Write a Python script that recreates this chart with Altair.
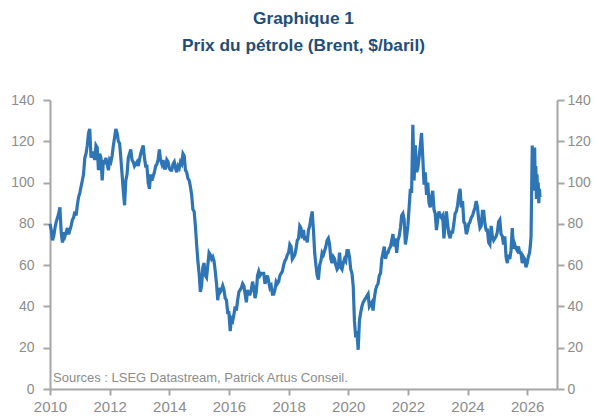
import altair as alt
import pandas as pd

title_lines = ["Graphique 1", "Prix du pétrole (Brent, $/baril)"]
source_note = "Sources : LSEG Datastream, Patrick Artus Conseil."
year_ticks = [2010, 2012, 2014, 2016, 2018, 2020, 2022, 2024, 2026]
price_ticks = [0, 20, 40, 60, 80, 100, 120, 140]

# Brent, $/barrel, two readings per month (1st and 15th)
brent_2010 = [80, 77, 72, 74, 78, 81, 83, 85, 88, 76, 71, 76, 74, 76, 78, 75, 77, 79, 82, 83, 86, 84, 89, 93]
brent_2011 = [95, 98, 101, 104, 112, 114, 118, 124, 126, 112, 115, 113, 111, 118, 117, 106, 114, 112, 101, 111, 109, 112, 109, 106]
brent_2012 = [111, 110, 113, 118, 122, 126, 124, 120, 119, 112, 104, 96, 89, 101, 104, 112, 114, 116, 111, 110, 108, 109, 110, 108]
brent_2013 = [111, 114, 116, 118, 112, 108, 108, 100, 97, 104, 101, 103, 105, 108, 109, 111, 116, 111, 109, 111, 107, 107, 111, 110]
brent_2014 = [107, 106, 106, 109, 110, 107, 105, 108, 107, 110, 109, 114, 113, 106, 105, 102, 101, 98, 94, 87, 86, 79, 70, 62]
brent_2015 = [56, 47, 50, 59, 61, 55, 54, 60, 66, 65, 63, 64, 62, 57, 51, 43, 49, 47, 48, 50, 48, 44, 43, 37]
brent_2016 = [37, 28, 34, 33, 36, 40, 38, 43, 47, 48, 49, 51, 50, 46, 42, 48, 46, 46, 48, 52, 49, 44, 47, 55]
brent_2017 = [57, 55, 56, 56, 56, 51, 53, 55, 52, 49, 50, 46, 46, 48, 52, 51, 52, 55, 56, 57, 60, 62, 63, 65]
brent_2018 = [66, 70, 69, 63, 64, 65, 68, 72, 73, 79, 78, 73, 77, 72, 74, 71, 77, 79, 83, 86, 77, 66, 60, 55]
brent_2019 = [53, 60, 62, 66, 65, 67, 69, 72, 73, 70, 63, 61, 64, 63, 60, 58, 59, 66, 59, 58, 61, 63, 62, 67]
brent_2020 = [67, 64, 58, 56, 50, 33, 25, 28, 19, 33, 37, 40, 42, 43, 44, 45, 46, 40, 41, 42, 38, 44, 48, 50]
brent_2021 = [51, 55, 56, 63, 66, 69, 63, 66, 66, 68, 69, 72, 75, 69, 73, 66, 72, 74, 78, 84, 85, 82, 70, 74]
brent_2022 = [79, 88, 97, 95, 128, 101, 118, 105, 107, 112, 118, 124, 112, 99, 105, 94, 100, 90, 88, 93, 96, 87, 85, 77]
brent_2023 = [82, 86, 84, 83, 84, 73, 80, 86, 80, 75, 73, 76, 76, 80, 85, 86, 89, 94, 97, 88, 91, 81, 80, 75]
brent_2024 = [77, 80, 81, 83, 84, 86, 88, 91, 88, 82, 78, 79, 86, 86, 80, 77, 77, 71, 70, 79, 74, 72, 73, 74]
brent_2025 = [76, 81, 82, 75, 74, 70, 74, 64, 61, 65, 63, 67, 78, 68, 70, 68, 67, 69, 66, 66, 61, 64, 63, 59]
brent_2026_t = [2026.00, 2026.04, 2026.08, 2026.11, 2026.13, 2026.15, 2026.17, 2026.19, 2026.21, 2026.23,
                2026.25, 2026.27, 2026.29, 2026.31, 2026.33, 2026.35, 2026.37, 2026.39, 2026.41, 2026.43]
brent_2026 = [61, 64, 66, 70, 74, 96, 118, 100, 113, 96, 117, 98, 108, 92, 104, 94, 100, 90, 97, 93]

yearly = [(2010, brent_2010), (2011, brent_2011), (2012, brent_2012), (2013, brent_2013),
          (2014, brent_2014), (2015, brent_2015), (2016, brent_2016), (2017, brent_2017),
          (2018, brent_2018), (2019, brent_2019), (2020, brent_2020), (2021, brent_2021),
          (2022, brent_2022), (2023, brent_2023), (2024, brent_2024), (2025, brent_2025)]

rows = []
for yr, vals in yearly:
    for i, v in enumerate(vals):
        rows.append({"t": yr + i / 24, "p": v})
for t, v in zip(brent_2026_t, brent_2026):
    rows.append({"t": t, "p": v})
df = pd.DataFrame(rows)

AXIS_GREY = "#A6A6A6"
LABEL_GREY = "#8C8C8C"
FONT = "Liberation Sans, Arial, sans-serif"

x_enc = alt.X("t:Q", scale=alt.Scale(domain=[2010, 2027], nice=False, zero=False),
              axis=alt.Axis(values=year_ticks, format="d", title=None, labelFontSize=15,
                            labelPadding=4, tickSize=6, labelFlush=False, labelOverlap=False))
y_scale = alt.Scale(domain=[0, 140], nice=False)

line = alt.Chart(df).mark_line(color="#2E75B6", strokeWidth=3.2).encode(
    x=x_enc,
    y=alt.Y("p:Q", scale=y_scale,
            axis=alt.Axis(values=price_ticks, title=None, orient="left", labelFontSize=14,
                          tickSize=7, labelPadding=9)),
)
right = alt.Chart(df).mark_line(opacity=0).encode(
    x=x_enc,
    y=alt.Y("p:Q", scale=y_scale,
            axis=alt.Axis(values=price_ticks, title=None, orient="right", labelFontSize=14,
                          tickSize=7, labelPadding=3)),
)
note = alt.Chart(pd.DataFrame({"s": [source_note]})).mark_text(
    align="left", baseline="middle", fontSize=13, font=FONT, color=LABEL_GREY
).encode(text="s:N", x=alt.value(3), y=alt.value(278))

chart = (
    alt.layer(line, right, note)
    .resolve_scale(y="shared")
    .resolve_axis(y="independent")
    .properties(
        width=507,
        height=289,
        autosize="none",
        padding={"left": 42, "top": 92, "right": 34, "bottom": 24},
        title=alt.TitleParams(text=title_lines, fontSize=17.3, font="Liberation Sans", fontWeight="bold",
                              color="#1F4E79", lineHeight=27, offset=39, anchor="middle"),
    )
    .configure_view(stroke=None)
    .configure_axis(grid=False, domainColor=AXIS_GREY, tickColor=AXIS_GREY, domainWidth=2,
                    tickWidth=2, labelColor=LABEL_GREY, labelFont=FONT)
)

chart.save("out.html", embed_options={"renderer": "svg", "actions": False})
